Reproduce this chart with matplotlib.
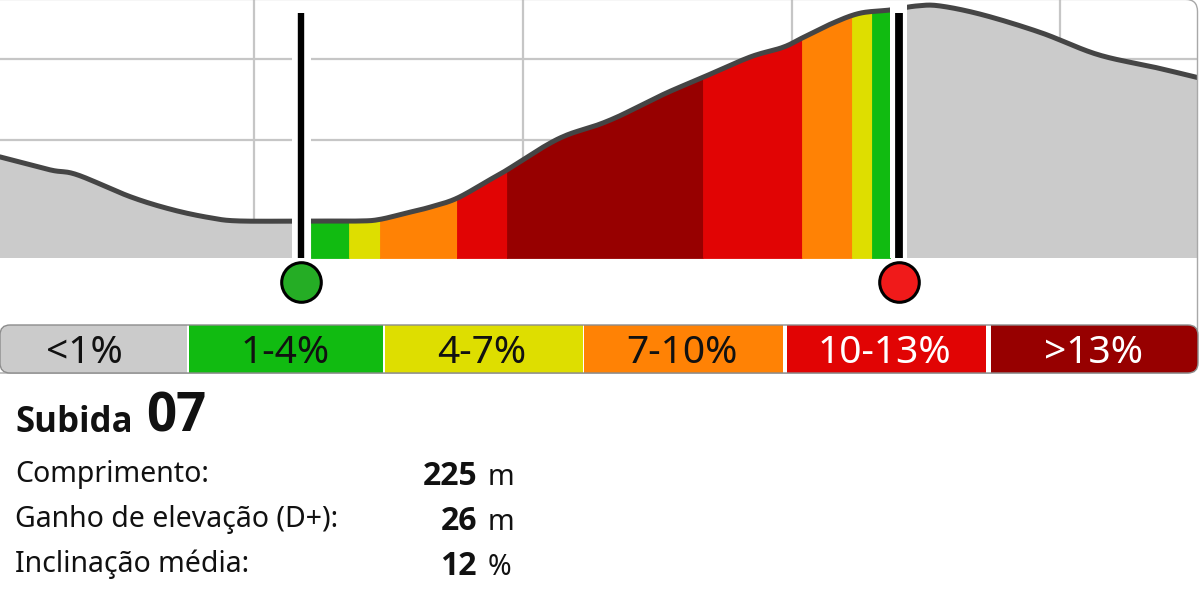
import numpy as np
import matplotlib
matplotlib.use("Agg")
import matplotlib.pyplot as plt
from matplotlib import font_manager as fm
from matplotlib.patches import FancyBboxPatch, Rectangle

# ---------------- data ----------------
# distance from climb start (m) and elevation (m)
dist = [-120.9, -101.4, -90.9, -70.3, -54.0, -39.2, -27.6, 0.0, 19.0, 26.8,
        37.3, 46.2, 56.7, 69.6, 76.2, 90.2, 99.5, 111.1, 118.9, 126.7,
        138.3, 152.3, 170.6, 183.4, 191.2, 202.9, 213.3, 225.0, 235.5, 244.4,
        261.1, 283.7, 305.8, 328.4, 345.5]
elev = [107.9, 106.3, 105.7, 103.0, 101.4, 100.4, 100.0, 100.0, 100.0, 100.2,
        101.0, 101.7, 102.8, 105.1, 106.3, 109.1, 110.6, 111.8, 112.8, 114.0,
        115.8, 117.7, 120.2, 121.4, 122.6, 124.4, 125.6, 126.0, 126.5, 126.5,
        125.4, 123.2, 120.5, 118.9, 117.6]

seg_edges = [0.0, 14.8, 26.8, 56.7, 76.2, 152.3, 190.8, 210.2, 218.0, 225.0]
seg_class = [1, 2, 3, 4, 5, 4, 3, 2, 1]

class_labels = ["<1%", "1-4%", "4-7%", "7-10%", "10-13%", ">13%"]
class_colors = ["#cbcbcb", "#11bb11", "#dede00", "#ff8205", "#e10404", "#970000"]
label_colors = ["#111111", "#111111", "#111111", "#111111", "#ffffff", "#ffffff"]

grid_x = [-22.2, 82.4, 186.9, 291.1]
grid_y = [110.0, 120.0]

start_d = -3.7
end_d = 228.5

climb_word = "Subida"
climb_no = "07"
stat_labels = ["Comprimento:", "Ganho de elevação (D+):", "Inclinação média:"]
stat_values = ["225", "26", "12"]
stat_units = ["m", "m", "%"]


# ---------------- fonts ----------------
def _w(f):
    w = f.weight
    if isinstance(w, str):
        return {"bold": 700, "heavy": 800, "black": 900, "semibold": 600,
                "demibold": 600, "normal": 400, "regular": 400}.get(w.lower(), 400)
    return int(w)


def find_font(fams, bold):
    for fam in fams:
        c = [f for f in fm.fontManager.ttflist
             if f.name == fam and f.style == "normal" and f.stretch == "normal"]
        if bold:
            c = [f for f in c if _w(f) >= 700]
            c.sort(key=lambda f: abs(_w(f) - 700))
        else:
            c = [f for f in c if _w(f) == 400]
        if c:
            return c[0].fname
    return None


FAMS = ["Noto Sans", "Open Sans", "Lato", "Roboto", "DejaVu Sans"]
reg_path = find_font(FAMS, False)
bold_path = find_font(FAMS, True)


def fp(size, bold=False):
    p = bold_path if bold else reg_path
    if p:
        return fm.FontProperties(fname=p, size=size)
    return fm.FontProperties(family="DejaVu Sans", size=size,
                             weight="bold" if bold else "normal")


# ---------------- smooth drawing curve (Catmull-Rom through data) ----------------
def catmull(xs, ys, n=16):
    P = np.column_stack([xs, ys])
    P = np.vstack([P[0], P, P[-1]])
    out = []
    for i in range(1, len(P) - 2):
        p0, p1, p2, p3 = P[i - 1], P[i], P[i + 1], P[i + 2]
        t = np.linspace(0, 1, n, endpoint=False)[:, None]
        pts = 0.5 * ((2 * p1) + (-p0 + p2) * t + (2 * p0 - 5 * p1 + 4 * p2 - p3) * t ** 2
                     + (-p0 + 3 * p1 - 3 * p2 + p3) * t ** 3)
        out.append(pts)
    out.append(P[-2][None, :])
    out = np.vstack(out)
    return out[:, 0], out[:, 1]


sx, sy = catmull(dist, elev)

# ---------------- figure ----------------
W, H = 1200, 600
fig = plt.figure(figsize=(12, 6), dpi=100)
fig.patch.set_facecolor("white")

ax = fig.add_axes([0, 1 - 258 / H, 1197 / W, 258 / H])
XL = (-120.86, 344.3)
YL = (95.44, 127.23)
ax.set_xlim(*XL)
ax.set_ylim(*YL)
ax.axis("off")
y0 = YL[0]

ax.vlines(grid_x, YL[0], YL[1], color="#c6c6c6", lw=1.6, zorder=0)
ax.hlines(grid_y, XL[0], XL[1], color="#c6c6c6", lw=1.6, zorder=0)

ax.fill_between(sx, sy, y0, color=class_colors[0], lw=0, zorder=1)
for a, b, c in zip(seg_edges[:-1], seg_edges[1:], seg_class):
    inner = sx[(sx > a) & (sx < b)]
    xs = np.concatenate([[a], inner, [b]])
    ys = np.interp(xs, sx, sy)
    ax.fill_between(xs, ys, y0, color=class_colors[c], lw=0.6,
                    edgecolor=class_colors[c], zorder=2)

ax.plot(sx, sy, color="#454545", lw=3.6, zorder=3,
        solid_joinstyle="round", solid_capstyle="round")

ax.add_patch(Rectangle((start_d - 3.7, y0), 7.4, YL[1] - y0,
                       facecolor="white", edgecolor="none", zorder=4))
ax.add_patch(Rectangle((end_d - 3.5, y0), 6.6, 126.7 - y0,
                       facecolor="white", edgecolor="none", zorder=4))
ax.vlines([start_d], y0, 125.63, color="black", lw=4.6, zorder=5)
ax.vlines([end_d], y0, 125.63, color="black", lw=5.6, zorder=5)

ax.plot([start_d], [92.48], "o", ms=28.5, mfc="#25ad25", mec="black",
        mew=2.2, clip_on=False, zorder=6)
ax.plot([end_d], [92.48], "o", ms=28.5, mfc="#f01a1a", mec="black",
        mew=2.2, clip_on=False, zorder=6)

ov = fig.add_axes([0, 0, 1, 1])
ov.set_xlim(0, W)
ov.set_ylim(H, 0)
ov.axis("off")

card = FancyBboxPatch((-30, -0.6), 1197.5 + 30, 373.6,
                      boxstyle="round,pad=0,rounding_size=12",
                      facecolor="none", edgecolor="#a8a8a8", lw=1.0, zorder=1)
ov.add_patch(card)

bar = FancyBboxPatch((0, 325), 1198, 48, boxstyle="round,pad=0,rounding_size=10",
                     facecolor="white", edgecolor="none", zorder=2)
ov.add_patch(bar)
seg_px = [(0, 187), (189, 383), (385, 583), (584, 783), (787, 986), (991, 1198)]
for (l, r), col in zip(seg_px, class_colors):
    rect = Rectangle((l, 325), r - l, 48, facecolor=col, edgecolor="none", zorder=3)
    ov.add_patch(rect)
    rect.set_clip_path(bar)
ov.add_patch(FancyBboxPatch((0, 325), 1198, 48, boxstyle="round,pad=0,rounding_size=10",
                            facecolor="none", edgecolor="#8c8c8c", lw=1.0, zorder=4))
label_cx = [84, 285, 482, 682, 884, 1094]
for cx, lab, tc in zip(label_cx, class_labels, label_colors):
    ov.text(cx, 363, lab, ha="center", va="baseline", fontproperties=fp(28),
            color=tc, zorder=5)

ov.text(15, 432, climb_word, fontproperties=fp(25, True), va="baseline",
        color="#111111")
ov.text(146, 432, climb_no, fontproperties=fp(38, True), va="baseline",
        color="#111111")

for i, (lab, val, unit) in enumerate(zip(stat_labels, stat_values, stat_units)):
    yb = 482 + 45 * i
    ov.text(15, yb, lab, fontproperties=fp(20.5), va="baseline", color="#111111")
    ov.text(477, yb + 3, val, fontproperties=fp(23, True), va="baseline",
            ha="right", color="#111111")
    ov.text(488, yb + 3, unit, fontproperties=fp(20.5), va="baseline",
            color="#111111")

fig.savefig("out.png", dpi=100)
